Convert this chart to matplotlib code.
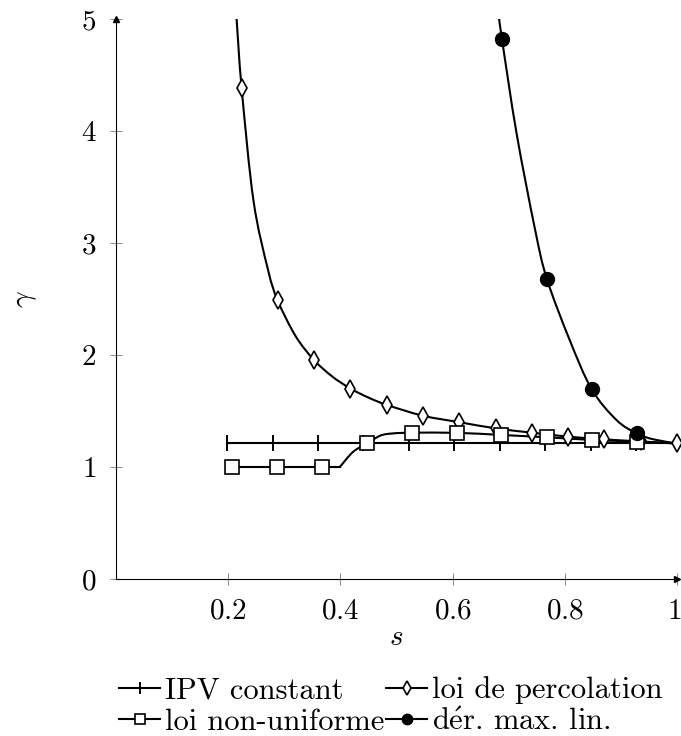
import matplotlib
matplotlib.use("Agg")
import matplotlib.pyplot as plt
import matplotlib.transforms as mtransforms
from matplotlib.path import Path
from matplotlib.patches import PathPatch
from matplotlib.lines import Line2D
import numpy as np

plt.rcParams["mathtext.fontset"] = "cm"
plt.rcParams["font.family"] = ["cmr10", "DejaVu Serif"]
plt.rcParams["axes.formatter.use_mathtext"] = True

# IPV constant
s_ipv = [0.198, 0.279, 0.360, 0.441, 0.522, 0.603, 0.684, 0.765, 0.846, 0.927, 1.0]
g_ipv = [1.21] * 11
mk_ipv = list(range(10))

# loi de percolation (curve samples, markers on some of them)
s_perc = [0.215, 0.224, 0.245, 0.271, 0.288, 0.32, 0.353, 0.385, 0.418, 0.45, 0.483,
          0.547, 0.612, 0.677, 0.742, 0.806, 0.870, 0.935, 1.0]
g_perc = [5.0, 4.38, 3.38, 2.76, 2.49, 2.17, 1.955, 1.81, 1.70, 1.62, 1.554,
          1.458, 1.40, 1.345, 1.306, 1.271, 1.247, 1.228, 1.21]
mk_perc = [1, 4, 6, 8, 10, 11, 12, 13, 14, 15, 16, 17, 18]

# loi non-uniforme
s_nu = [0.207, 0.287, 0.368, 0.399, 0.423, 0.448, 0.471, 0.494, 0.528, 0.607,
        0.687, 0.768, 0.848, 0.928, 1.0]
g_nu = [1.0, 1.0, 1.0, 1.0, 1.137, 1.21, 1.28, 1.30, 1.306, 1.305,
        1.286, 1.265, 1.242, 1.226, 1.21]
mk_nu = [0, 1, 2, 5, 8, 9, 10, 11, 12, 13]
kink_nu = 3

# dér. max. lin.
s_der = [0.683, 0.688, 0.714, 0.747, 0.768, 0.809, 0.848, 0.892, 0.928, 0.958, 1.0]
g_der = [5.0, 4.82, 3.98, 3.12, 2.68, 2.13, 1.694, 1.42, 1.30, 1.247, 1.21]
mk_der = [1, 4, 6, 8]


def smooth_path(x, y):
    # cubic Bezier through the points (like pgfplots "smooth")
    p = np.column_stack([x, y]).astype(float)
    verts = [p[0]]
    codes = [Path.MOVETO]
    n = len(p)
    for i in range(n - 1):
        prev = p[i - 1] if i > 0 else p[i]
        nxt = p[i + 2] if i + 2 < n else p[i + 1]
        c1 = p[i] + (p[i + 1] - prev) / 6.0
        c2 = p[i + 1] - (nxt - p[i]) / 6.0
        verts += [c1, c2, p[i + 1]]
        codes += [Path.CURVE4] * 3
    return Path(verts, codes)


def add_curve(ax, x, y):
    ax.add_patch(PathPatch(smooth_path(x, y), fill=False, ec="black", lw=1.5,
                           capstyle="round", joinstyle="round"))


fig = plt.figure(figsize=(6.81, 7.36), dpi=100)
ax = fig.add_axes([116 / 681, 157 / 736, 561 / 681, 560 / 736])

ipv_style = dict(marker="|", ms=11, mew=1.4, color="black")
perc_style = dict(marker="d", ms=9, mew=1.2, mfc="white", color="black")
nu_style = dict(marker="s", ms=10, mew=1.2, mfc="white", color="black")
der_style = dict(marker="o", ms=10, mfc="black", color="black")

ax.plot(s_ipv, g_ipv, "k-", lw=1.5, markevery=mk_ipv, **ipv_style)

add_curve(ax, s_perc, g_perc)
ax.plot(np.array(s_perc)[mk_perc], np.array(g_perc)[mk_perc], ls="none",
        clip_on=False, **perc_style)

ax.plot(s_nu[:kink_nu + 1], g_nu[:kink_nu + 1], "k-", lw=1.5)
add_curve(ax, s_nu[kink_nu:], g_nu[kink_nu:])
ax.plot(np.array(s_nu)[mk_nu], np.array(g_nu)[mk_nu], ls="none", clip_on=False, **nu_style)

add_curve(ax, s_der, g_der)
ax.plot(np.array(s_der)[mk_der], np.array(g_der)[mk_der], ls="none", clip_on=False,
        **der_style)

ax.set_xlim(0, 1)
ax.set_ylim(0, 5)
for side in ["top", "right"]:
    ax.spines[side].set_visible(False)
for side in ["left", "bottom"]:
    ax.spines[side].set_linewidth(0.8)
ax.plot(1, 0, ">k", ms=5, transform=ax.transAxes, clip_on=False)
ax.plot(0, 1, "^k", ms=5, transform=ax.transAxes, clip_on=False)

ax.set_xticks([0.2, 0.4, 0.6, 0.8, 1.0])
ax.set_xticklabels(["$0.2$", "$0.4$", "$0.6$", "$0.8$", "$1$"])
ax.set_yticks([0, 1, 2, 3, 4, 5])
ax.set_yticklabels(["$%d$" % v for v in range(6)])
ax.tick_params(direction="inout", length=8, width=0.6, color="0.45", labelsize=21, pad=10)
# keep the last x label inside the canvas
last = ax.get_xticklabels()[-1]
last.set_transform(last.get_transform() +
                   mtransforms.ScaledTranslation(-3 / 100, 0, fig.dpi_scale_trans))

ax.set_xlabel("$s$", fontsize=21, labelpad=0)
ax.set_ylabel(r"$\gamma$", fontsize=21, labelpad=30)

h_ipv = Line2D([], [], lw=1.5, **ipv_style)
h_perc = Line2D([], [], lw=1.5, **perc_style)
h_nu = Line2D([], [], lw=1.5, **nu_style)
h_der = Line2D([], [], lw=1.5, **der_style)
handles = [h_ipv, h_nu, h_perc, h_der]
texts = ["IPV constant", "loi non-uniforme", "loi de percolation",
         r"d$\acute{\mathrm{e}}$r. max. lin."]
ax.legend(handles, texts, loc="upper center", bbox_to_anchor=(0.49, -0.125), ncol=2,
          frameon=False, fontsize=22, handlelength=1.35, handletextpad=0.16,
          columnspacing=0.05, labelspacing=0.12, numpoints=1, markerscale=0.75)

fig.savefig("out.png", dpi=100)
